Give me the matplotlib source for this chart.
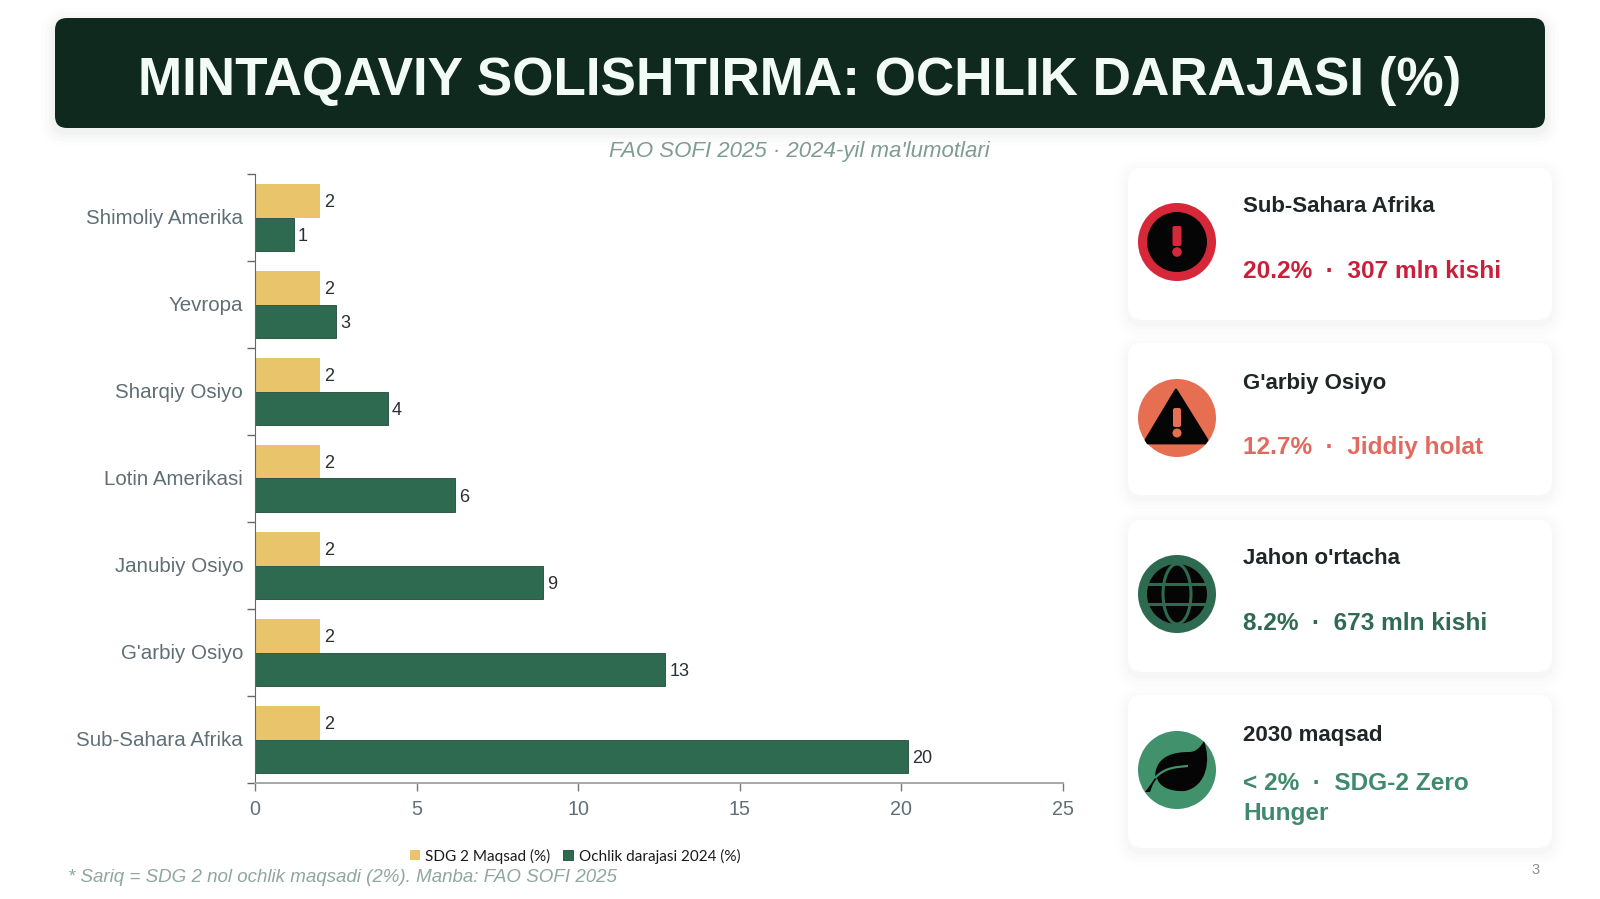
import matplotlib
matplotlib.use("Agg")
import math
import matplotlib.pyplot as plt
from matplotlib.patches import FancyBboxPatch, Circle, Polygon, Ellipse, PathPatch
from matplotlib.path import Path
from matplotlib.lines import Line2D
from matplotlib.transforms import ScaledTranslation

W, H = 1600, 899
TITLE = "MINTAQAVIY SOLISHTIRMA: OCHLIK DARAJASI (%)"
SUBTITLE = "FAO SOFI 2025 · 2024-yil ma'lumotlari"
FOOTNOTE = "* Sariq = SDG 2 nol ochlik maqsadi (2%). Manba: FAO SOFI 2025"
regions = ["Sub-Sahara Afrika", "G'arbiy Osiyo", "Janubiy Osiyo", "Lotin Amerikasi",
           "Sharqiy Osiyo", "Yevropa", "Shimoliy Amerika"]
hunger = [20.2, 12.7, 8.9, 6.2, 4.1, 2.5, 1.2]
target = [2, 2, 2, 2, 2, 2, 2]
series_names = ["SDG 2 Maqsad (%)", "Ochlik darajasi 2024 (%)"]
xticks = [0, 5, 10, 15, 20, 25]
card_titles = ["Sub-Sahara Afrika", "G'arbiy Osiyo", "Jahon o'rtacha", "2030 maqsad"]
card_values = ["20.2%  ·  307 mln kishi", "12.7%  ·  Jiddiy holat", "8.2%  ·  673 mln kishi",
               "< 2%  ·  SDG-2 Zero\nHunger"]
card_colors = ["#D62839", "#E76F51", "#2D6A4F", "#40916C"]
card_text = ["#C9203A", "#E2695F", "#2F6A52", "#3F8A6C"]

SANS = "Liberation Sans"
YEL, GRN = "#E9C46A", "#2D6A4F"

fig = plt.figure(figsize=(W / 100, H / 100), dpi=100, facecolor="white")
bg = fig.add_axes([0, 0, 1, 1], zorder=0)
bg.set_xlim(0, W); bg.set_ylim(H, 0); bg.axis("off")


def soft_box(ax, x0, y0, x1, y1, r, fc, shadow=0.012):
    for g, a in ((14, .35), (10, .5), (6, .7), (3, 1.0)):
        ax.add_patch(FancyBboxPatch((x0 - g, y0 - g + 4), x1 - x0 + 2 * g, y1 - y0 + 2 * g,
                                    boxstyle=f"round,pad=0,rounding_size={r + g}",
                                    fc="#1B3A2D", ec="none", alpha=shadow * a))
    ax.add_patch(FancyBboxPatch((x0, y0), x1 - x0, y1 - y0,
                                boxstyle=f"round,pad=0,rounding_size={r}", fc=fc, ec="none"))


# Header
soft_box(bg, 55, 18, 1545, 128, 12, "#10291E", shadow=0.02)
bg.text(800, 80.5, TITLE, ha="center", va="center", family=SANS, weight="bold",
        fontsize=38.28, color="#F3FBF7")
bg.text(799.5, 152, SUBTITLE, ha="center", va="center", family=SANS, style="italic",
        fontsize=16.0, color="#7F9C90")

# Chart
px0, px1, py0, py1 = 255, 1063, 783, 174
ax = fig.add_axes([px0 / W, 1 - py0 / H, (px1 - px0) / W, (py0 - py1) / H], zorder=2)
ax.patch.set_alpha(0)
h = 0.39
ypos = list(range(len(regions)))
b_t = ax.barh([y + h / 2 for y in ypos], target, height=h, color=YEL, label=series_names[0])
b_h = ax.barh([y - h / 2 for y in ypos], hunger, height=h, color=GRN, edgecolor="#1F4A37",
              linewidth=0.6, label=series_names[1])
for y, t, v in zip(ypos, target, hunger):
    ax.annotate(f"{math.floor(t + 0.5)}", (t, y + h / 2), xytext=(3, -1.5), textcoords="offset points",
                va="center", family=SANS, fontsize=13, color="#2A2F33")
    ax.annotate(f"{math.floor(v + 0.5)}", (v, y - h / 2), xytext=(3, -1.5), textcoords="offset points",
                va="center", family=SANS, fontsize=13, color="#2A2F33")
ax.set_xlim(0, 25)
ax.set_ylim(-0.5, len(regions) - 0.5)
ax.set_xticks(xticks)
ax.tick_params(axis="x", length=6, width=1, color="#777777", labelcolor="#5F6F76", labelsize=14.2, pad=6)
for l in ax.get_xticklabels():
    l.set_family(SANS)
ax.set_yticks([y - 0.5 for y in range(len(regions) + 1)])
ax.set_yticklabels([])
ax.tick_params(axis="y", which="major", length=6, width=1, color="#666666")
ax.set_yticks(ypos, minor=True)
ax.set_yticklabels(regions, minor=True, family=SANS, fontsize=14.8, color="#5F6F76")
ax.tick_params(axis="y", which="minor", length=0, pad=8.5)
up = ScaledTranslation(0, 1 / 100, fig.dpi_scale_trans)
for l in ax.get_yticklabels(minor=True):
    l.set_transform(l.get_transform() + up)
ax.spines[["top", "right"]].set_visible(False)
ax.spines["bottom"].set_color("#A8A8A8")
ax.spines["bottom"].set_linewidth(1.4)
ax.spines["left"].set_color("#666666")

fig.legend(handles=[b_t, b_h], labels=series_names, loc="center", ncol=2,
           bbox_to_anchor=(575 / W, 1 - 856 / H), frameon=False,
           prop={"family": "Lato", "size": 10.95}, handlelength=0.68, handleheight=0.68,
           handletextpad=0.35, columnspacing=0.8, labelcolor="#1A1A1A")
bg.text(68, 877, FOOTNOTE, ha="left", va="center", family=SANS, style="italic",
        fontsize=13.5, color="#8FA79D")
bg.text(1536, 870, "3", ha="center", va="center", family=SANS, fontsize=10.5, color="#8A8F92")

# Cards
card_y = [(168, 320), (343, 495), (520, 672), (695, 848)]
icon_y = [242, 418, 594, 770]
title_y = [207, 384, 559, 735.5]
value_y = [272, 447.5, 623, 798.5]
fg = fig.add_axes([0, 0, 1, 1], zorder=3)
fg.set_xlim(0, W); fg.set_ylim(H, 0); fg.axis("off"); fg.patch.set_alpha(0)
cx = 1177
for (y0, y1), iy, ty, vy, tt, vt, c, tc in zip(card_y, icon_y, title_y, value_y,
                                              card_titles, card_values, card_colors, card_text):
    soft_box(fg, 1128, y0, 1552, y1, 14, "white")
    fg.add_patch(Circle((cx, iy), 39, fc=c, ec="none"))
    fg.text(1243, ty, tt, ha="left", va="center", family=SANS, weight="bold", fontsize=16.0,
            color="#1F2628")
    fg.text(1243, vy, vt, ha="left", va="center", family=SANS, weight="bold", fontsize=17.55,
            color=tc, linespacing=1.4)

K = "#050505"
# Alert circle
iy = icon_y[0]
fg.add_patch(Circle((cx, iy), 30, fc=K, ec="none"))
fg.add_patch(FancyBboxPatch((cx - 4.5, iy - 16), 9, 20, boxstyle="round,pad=0,rounding_size=2",
                            fc=card_colors[0], ec="none"))
fg.add_patch(Circle((cx, iy + 10), 4.8, fc=card_colors[0], ec="none"))
# Warning triangle
iy = icon_y[1]
fg.add_patch(Polygon([(cx - 1, iy - 28), (cx + 30, iy + 22), (cx + 28, iy + 25), (cx - 29, iy + 25),
                      (cx - 31, iy + 22)], closed=True, fc=K, ec=K, lw=2, joinstyle="round"))
fg.add_patch(FancyBboxPatch((cx - 4, iy - 10), 8, 19, boxstyle="round,pad=0,rounding_size=2",
                            fc=card_colors[1], ec="none"))
fg.add_patch(Circle((cx, iy + 15), 4.5, fc=card_colors[1], ec="none"))
# Globe
iy = icon_y[2]
fg.add_patch(Circle((cx, iy), 30, fc=K, ec="none"))
fg.add_patch(Ellipse((cx, iy), 28, 60, fc="none", ec=card_colors[2], lw=2.2))
fg.add_line(Line2D([cx - 30, cx + 30], [iy - 10, iy - 10], color=card_colors[2], lw=2.2))
fg.add_line(Line2D([cx - 30, cx + 30], [iy + 10, iy + 10], color=card_colors[2], lw=2.2))
# Leaf
iy = icon_y[3]
leaf = Path([(cx - 32, iy + 22), (cx - 26, iy + 14), (cx - 22, iy + 8),
             (cx - 22, iy - 16), (cx + 0, iy - 18), (cx + 12, iy - 18),
             (cx + 20, iy - 18), (cx + 24, iy - 24), (cx + 27, iy - 29),
             (cx + 34, iy - 10), (cx + 30, iy + 16), (cx + 8, iy + 21),
             (cx - 8, iy + 22), (cx - 18, iy + 16), (cx - 20, iy + 8),
             (cx - 24, iy + 14), (cx - 27, iy + 22), (cx - 32, iy + 22)],
            [Path.MOVETO, Path.LINETO, Path.LINETO,
             Path.CURVE4, Path.CURVE4, Path.CURVE4,
             Path.CURVE4, Path.CURVE4, Path.CURVE4,
             Path.CURVE4, Path.CURVE4, Path.CURVE4,
             Path.CURVE4, Path.CURVE4, Path.CURVE4,
             Path.LINETO, Path.LINETO, Path.CLOSEPOLY])
fg.add_patch(PathPatch(leaf, fc=K, ec="none"))
vein = Path([(cx - 22, iy + 8), (cx - 12, iy - 3), (cx + 0, iy - 3), (cx + 11, iy - 4)],
            [Path.MOVETO, Path.CURVE4, Path.CURVE4, Path.CURVE4])
fg.add_patch(PathPatch(vein, fc="none", ec=card_colors[3], lw=1.6))

fig.savefig("out.png", dpi=100, facecolor="white")
